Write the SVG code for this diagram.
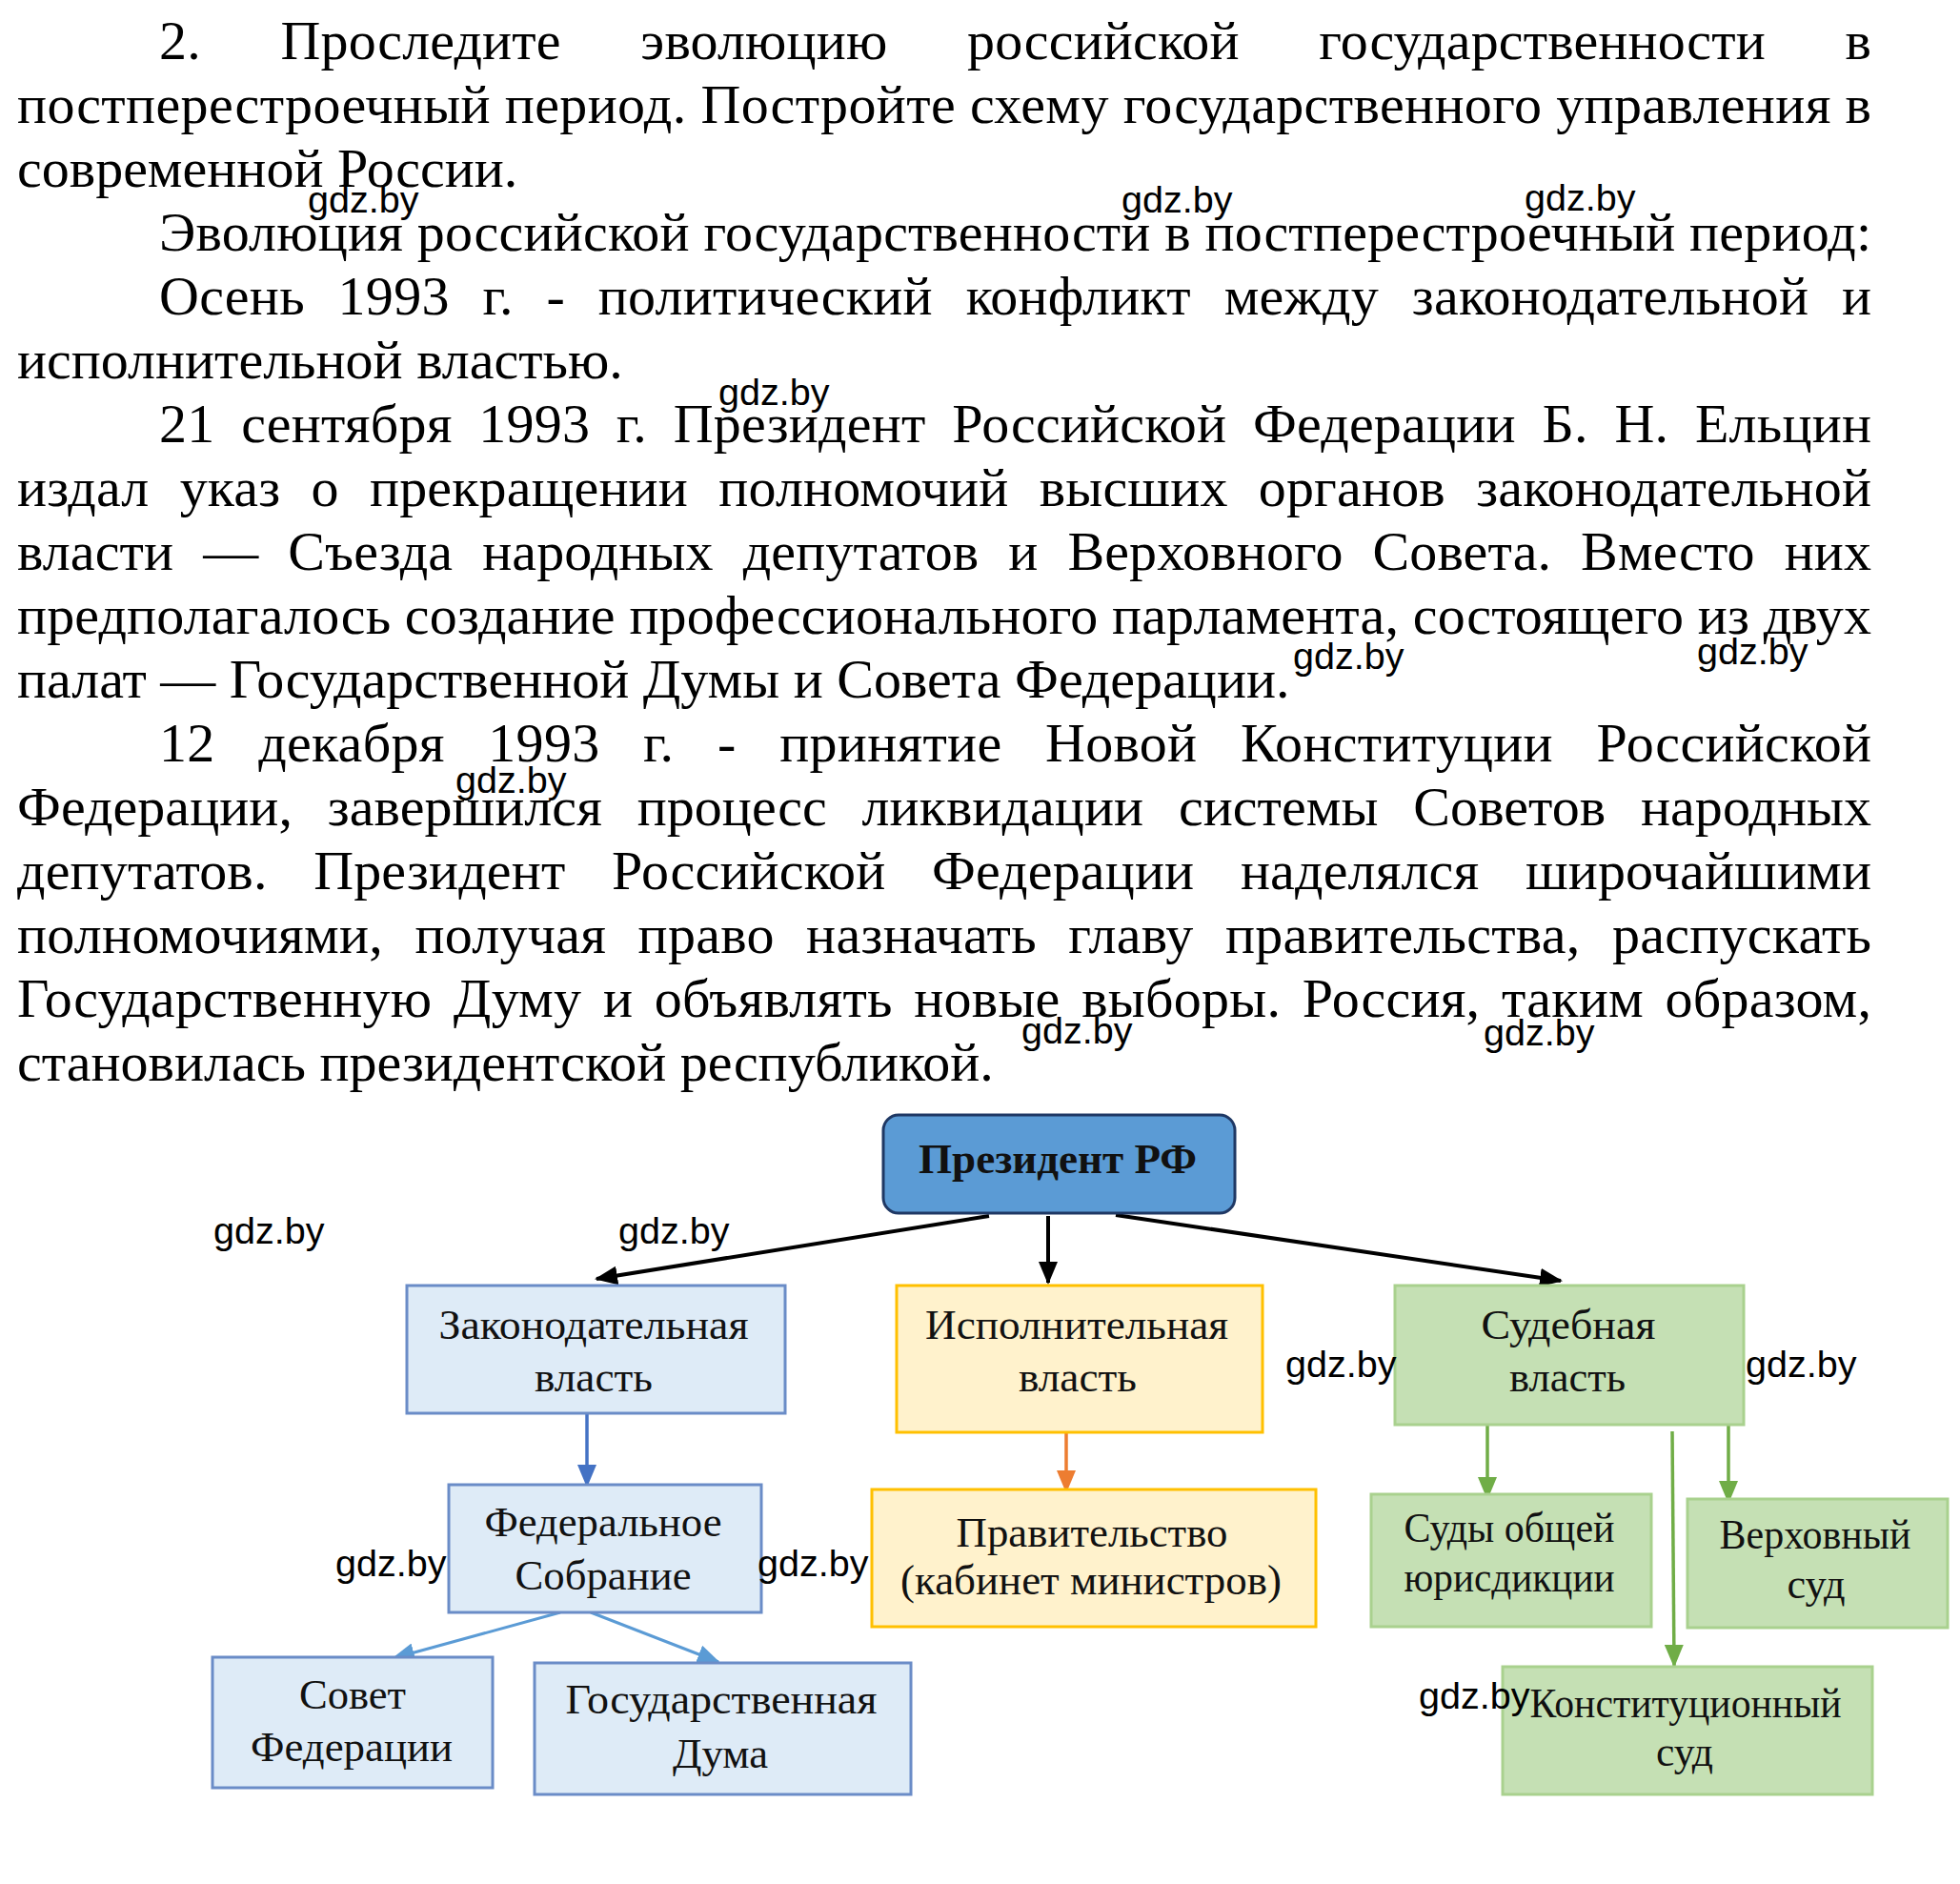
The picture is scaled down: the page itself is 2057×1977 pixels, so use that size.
<svg xmlns="http://www.w3.org/2000/svg" width="2057" height="1977" viewBox="0 0 2057 1977">
<style>
.body{font-family:"Liberation Serif","Times New Roman",serif;font-size:58px;fill:#000}
.wm{font-family:"Liberation Sans",Arial,sans-serif;font-size:39.5px;fill:#000}
.nt{font-family:"Liberation Serif","Times New Roman",serif;font-size:45px;fill:#111;text-anchor:middle}
.leg{fill:#deebf7;stroke:#6a8cc7;stroke-width:3}
.exe{fill:#fff2cc;stroke:#ffc000;stroke-width:3}
.jud{fill:#c5e0b4;stroke:#a9d18e;stroke-width:3}
.k{stroke:#000;stroke-width:4;fill:none}
.b1{stroke:#4472c4;stroke-width:3.5;fill:none}
.b2{stroke:#5b9bd5;stroke-width:3;fill:none}
.o{stroke:#ed7d31;stroke-width:3.5;fill:none}
.g{stroke:#70ad47;stroke-width:3.5;fill:none}
</style>
<defs>
<marker id="ak" markerUnits="userSpaceOnUse" markerWidth="24" markerHeight="20" refX="22" refY="10" orient="auto"><path d="M0,0 L24,10 L0,20 z" fill="#000"/></marker>
<marker id="ab1" markerUnits="userSpaceOnUse" markerWidth="24" markerHeight="20" refX="22" refY="10" orient="auto"><path d="M0,0 L24,10 L0,20 z" fill="#4472c4"/></marker>
<marker id="ab2" markerUnits="userSpaceOnUse" markerWidth="24" markerHeight="20" refX="22" refY="10" orient="auto"><path d="M0,0 L24,10 L0,20 z" fill="#5b9bd5"/></marker>
<marker id="ao" markerUnits="userSpaceOnUse" markerWidth="24" markerHeight="20" refX="22" refY="10" orient="auto"><path d="M0,0 L24,10 L0,20 z" fill="#ed7d31"/></marker>
<marker id="ag" markerUnits="userSpaceOnUse" markerWidth="24" markerHeight="20" refX="22" refY="10" orient="auto"><path d="M0,0 L24,10 L0,20 z" fill="#70ad47"/></marker>
</defs>
<rect width="2057" height="1977" fill="#fff"/>

<g id="body-text">
<text class="body" x="167" y="62" word-spacing="69" textLength="1797" lengthAdjust="spacing">2. Проследите эволюцию российской государственности в</text>
<text class="body" x="18" y="129" textLength="1946" lengthAdjust="spacing">постперестроечный период. Постройте схему государственного управления в</text>
<text class="body" x="18" y="196">современной России.</text>
<text class="body" x="167" y="263" textLength="1797" lengthAdjust="spacing">Эволюция российской государственности в постперестроечный период:</text>
<text class="body" x="167" y="330" word-spacing="20" textLength="1797" lengthAdjust="spacing">Осень 1993 г. - политический конфликт между законодательной и</text>
<text class="body" x="18" y="397">исполнительной властью.</text>
<text class="body" x="167" y="464" word-spacing="13" textLength="1797" lengthAdjust="spacing">21 сентября 1993 г. Президент Российской Федерации Б. Н. Ельцин</text>
<text class="body" x="18" y="531" word-spacing="17.6" textLength="1946" lengthAdjust="spacing">издал указ о прекращении полномочий высших органов законодательной</text>
<text class="body" x="18" y="598" word-spacing="16.4" textLength="1946" lengthAdjust="spacing">власти — Съезда народных депутатов и Верховного Совета. Вместо них</text>
<text class="body" x="18" y="665" textLength="1946" lengthAdjust="spacing">предполагалось создание профессионального парламента, состоящего из двух</text>
<text class="body" x="18" y="732">палат — Государственной Думы и Совета Федерации.</text>
<text class="body" x="167" y="799" word-spacing="30.8" textLength="1797" lengthAdjust="spacing">12 декабря 1993 г. - принятие Новой Конституции Российской</text>
<text class="body" x="18" y="866" word-spacing="22.2" textLength="1946" lengthAdjust="spacing">Федерации, завершился процесс ликвидации системы Советов народных</text>
<text class="body" x="18" y="933" word-spacing="34" textLength="1946" lengthAdjust="spacing">депутатов. Президент Российской Федерации наделялся широчайшими</text>
<text class="body" x="18" y="1000" word-spacing="18.6" textLength="1946" lengthAdjust="spacing">полномочиями, получая право назначать главу правительства, распускать</text>
<text class="body" x="18" y="1067" word-spacing="7.9" textLength="1946" lengthAdjust="spacing">Государственную Думу и объявлять новые выборы. Россия, таким образом,</text>
<text class="body" x="18" y="1134">становилась президентской республикой.</text>
</g>

<g id="connectors">
<line class="k" x1="1038" y1="1276" x2="626" y2="1342" marker-end="url(#ak)"/>
<line class="k" x1="1100" y1="1276" x2="1100" y2="1346" marker-end="url(#ak)"/>
<line class="k" x1="1171" y1="1275" x2="1638" y2="1344" marker-end="url(#ak)"/>
<line class="b1" x1="616" y1="1483" x2="616" y2="1559" marker-end="url(#ab1)"/>
<line class="o" x1="1119" y1="1503" x2="1119" y2="1565" marker-end="url(#ao)"/>
<line class="g" x1="1561" y1="1495" x2="1561" y2="1572" marker-end="url(#ag)"/>
<line class="g" x1="1814" y1="1496" x2="1814" y2="1576" marker-end="url(#ag)"/>
<line class="g" x1="1755" y1="1502" x2="1757" y2="1748" marker-end="url(#ag)"/>
<line class="b2" x1="588" y1="1692" x2="413" y2="1740" marker-end="url(#ab2)"/>
<line class="b2" x1="620" y1="1692" x2="754" y2="1744" marker-end="url(#ab2)"/>
</g>

<g id="president">
<rect x="927" y="1170" width="369" height="103" rx="16" fill="#5b9bd5" stroke="#1f3864" stroke-width="3"/>
<text class="nt" x="1110" y="1231" font-weight="bold" textLength="292" lengthAdjust="spacingAndGlyphs">Президент РФ</text>
</g>
<g id="legislative">
<rect class="leg" x="427" y="1349" width="397" height="134"/>
<text class="nt" x="623" y="1405" textLength="325" lengthAdjust="spacingAndGlyphs">Законодательная</text>
<text class="nt" x="623" y="1460" textLength="124" lengthAdjust="spacingAndGlyphs">власть</text>
</g>
<g id="executive">
<rect class="exe" x="941" y="1349" width="384" height="154"/>
<text class="nt" x="1130" y="1405" textLength="318" lengthAdjust="spacingAndGlyphs">Исполнительная</text>
<text class="nt" x="1131" y="1460" textLength="124" lengthAdjust="spacingAndGlyphs">власть</text>
</g>
<g id="judicial">
<rect class="jud" x="1464" y="1349" width="366" height="146"/>
<text class="nt" x="1646" y="1405" textLength="183" lengthAdjust="spacingAndGlyphs">Судебная</text>
<text class="nt" x="1645" y="1460" textLength="122" lengthAdjust="spacingAndGlyphs">власть</text>
</g>
<g id="federal-assembly">
<rect class="leg" x="471" y="1558" width="328" height="134"/>
<text class="nt" x="633" y="1612" textLength="249" lengthAdjust="spacingAndGlyphs">Федеральное</text>
<text class="nt" x="633" y="1668" textLength="185" lengthAdjust="spacingAndGlyphs">Собрание</text>
</g>
<g id="government">
<rect class="exe" x="915" y="1563" width="466" height="144"/>
<text class="nt" x="1146" y="1623" textLength="285" lengthAdjust="spacingAndGlyphs">Правительство</text>
<text class="nt" x="1145" y="1673" textLength="400" lengthAdjust="spacingAndGlyphs">(кабинет министров)</text>
</g>
<g id="general-courts">
<rect class="jud" x="1439" y="1568" width="294" height="139"/>
<text class="nt" x="1584" y="1618" textLength="221" lengthAdjust="spacingAndGlyphs">Суды общей</text>
<text class="nt" x="1584" y="1670" textLength="221" lengthAdjust="spacingAndGlyphs">юрисдикции</text>
</g>
<g id="supreme-court">
<rect class="jud" x="1771" y="1573" width="273" height="135"/>
<text class="nt" x="1905" y="1625" textLength="201" lengthAdjust="spacingAndGlyphs">Верховный</text>
<text class="nt" x="1906" y="1677" textLength="61" lengthAdjust="spacingAndGlyphs">суд</text>
</g>
<g id="constitutional-court">
<rect class="jud" x="1577" y="1749" width="388" height="134"/>
<text class="nt" x="1769" y="1802" textLength="327" lengthAdjust="spacingAndGlyphs">Конституционный</text>
<text class="nt" x="1768" y="1853" textLength="60" lengthAdjust="spacingAndGlyphs">суд</text>
</g>
<g id="federation-council">
<rect class="leg" x="223" y="1739" width="294" height="137"/>
<text class="nt" x="370" y="1793" textLength="112" lengthAdjust="spacingAndGlyphs">Совет</text>
<text class="nt" x="369" y="1848" textLength="212" lengthAdjust="spacingAndGlyphs">Федерации</text>
</g>
<g id="state-duma">
<rect class="leg" x="561" y="1745" width="395" height="138"/>
<text class="nt" x="757" y="1798" textLength="327" lengthAdjust="spacingAndGlyphs">Государственная</text>
<text class="nt" x="756" y="1855" textLength="100" lengthAdjust="spacingAndGlyphs">Дума</text>
</g>

<g id="watermarks">
<text class="wm" x="323" y="223">gdz.by</text>
<text class="wm" x="1177" y="223">gdz.by</text>
<text class="wm" x="1600" y="221">gdz.by</text>
<text class="wm" x="754" y="425">gdz.by</text>
<text class="wm" x="1357" y="702">gdz.by</text>
<text class="wm" x="1781" y="697">gdz.by</text>
<text class="wm" x="478" y="832">gdz.by</text>
<text class="wm" x="1072" y="1095">gdz.by</text>
<text class="wm" x="1557" y="1097">gdz.by</text>
<text class="wm" x="224" y="1305">gdz.by</text>
<text class="wm" x="649" y="1305">gdz.by</text>
<text class="wm" x="1349" y="1445">gdz.by</text>
<text class="wm" x="1832" y="1445">gdz.by</text>
<text class="wm" x="352" y="1654">gdz.by</text>
<text class="wm" x="795" y="1654">gdz.by</text>
<text class="wm" x="1489" y="1793">gdz.by</text>
</g>
</svg>
